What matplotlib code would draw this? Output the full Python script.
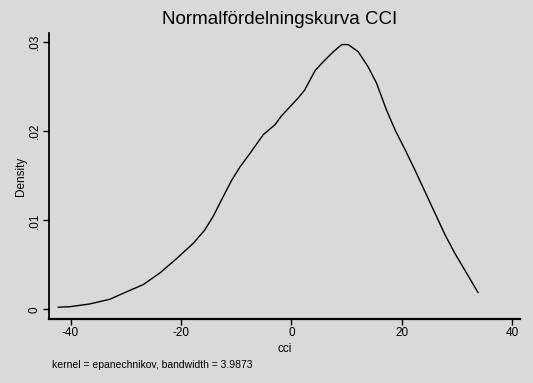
import matplotlib
matplotlib.use("Agg")
import matplotlib.pyplot as plt

plt.rcParams['font.family'] = ['Liberation Sans', 'DejaVu Sans']

# Data (kernel density of cci)
cci = [-42.2, -40.1, -36.5, -32.9, -30.5, -26.8, -23.8, -20.8, -17.8, -15.7,
       -14.2, -12.4, -10.8, -9.3, -7.5, -5.1, -3.0, -1.8, -0.3, 1.2, 2.4,
       4.3, 5.8, 7.6, 9.1, 10.3, 12.1, 13.9, 15.4, 17.2, 18.8, 20.6, 22.4,
       24.2, 26.0, 27.8, 29.6, 31.7, 33.8]
density = [0.00025, 0.00031, 0.00062, 0.00114, 0.0018, 0.0028, 0.0041, 0.0057,
           0.0074, 0.0089, 0.0104, 0.0126, 0.0145, 0.0160, 0.0175, 0.0196,
           0.0207, 0.0217, 0.0227, 0.0237, 0.0246, 0.0268, 0.0278, 0.0289,
           0.0297, 0.0297, 0.0289, 0.0272, 0.0254, 0.0224, 0.0201, 0.0179,
           0.0156, 0.0132, 0.0108, 0.0084, 0.0063, 0.0041, 0.0019]

xticks = [-40, -20, 0, 20, 40]
xticklabels = ['-40', '-20', '0', '20', '40']
yticks = [0, 0.01, 0.02, 0.03]
yticklabels = ['0', '.01', '.02', '.03']

bg = '#d9d9d9'
fig = plt.figure(figsize=(5.33, 3.83), dpi=100, facecolor=bg)
W, H = 533, 383
ax = fig.add_axes([49 / W, 1 - 319 / H, (520 - 49) / W, (319 - 33) / H])
ax.set_facecolor(bg)

ax.plot(cci, density, color='black', lw=1.0)

ax.set_xlim(-43.9, 41.4)
ax.set_ylim(-0.00107, 0.0310)

for s in ['top', 'right']:
    ax.spines[s].set_visible(False)
ax.spines['left'].set_linewidth(1.3)
ax.spines['bottom'].set_linewidth(1.6)

ax.set_xticks(xticks)
ax.set_xticklabels(xticklabels, fontsize=8.5)
ax.set_yticks(yticks)
ax.set_yticklabels(yticklabels, fontsize=8.5, rotation=90, va='center')
ax.tick_params(axis='both', direction='out', length=4, width=1, pad=2)

ax.set_xlabel('cci', fontsize=8.5, labelpad=3)
ax.set_ylabel('Density', fontsize=8.5, labelpad=1)

fig.text(279.5 / W, 1 - 20 / H, 'Normalfördelningskurva CCI', fontsize=13.5,
         ha='center', va='center')
fig.text(52 / W, 1 - 365 / H, 'kernel = epanechnikov, bandwidth = 3.9873',
         fontsize=7.5, ha='left', va='center')

fig.savefig('out.png', dpi=100, facecolor=bg)
